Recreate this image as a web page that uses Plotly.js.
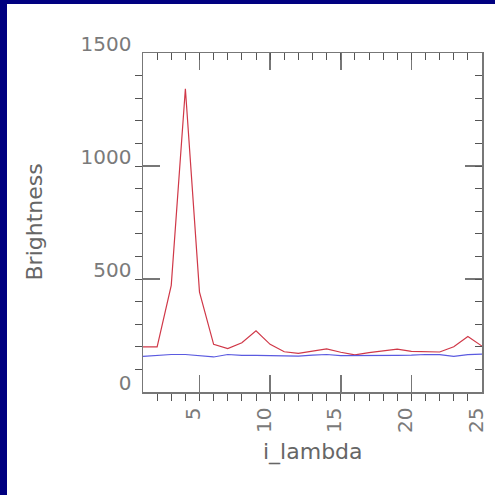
<!DOCTYPE html>
<html>
<head>
<meta charset="utf-8">
<script src="https://cdn.plot.ly/plotly-3.0.1.min.js"></script>
<style>
html, body { margin: 0; padding: 0; background: #000080; width: 495px; height: 495px; overflow: hidden; }
#plot { position: absolute; left: 7px; top: 4px; width: 488px; height: 491px; background: #ffffff; }
</style>
</head>
<body>
<div id="plot"></div>
<script>
const iLambda = [1,2,3,4,5,6,7,8,9,10,11,12,13,14,15,16,17,18,19,20,21,22,23,24,25];
const redBrightness = [200,200,472,1342,442,211,192,218,271,211,178,171,181,191,176,164,174,181,190,180,180,177,200,246,203];
const blueBrightness = [158,162,166,166,162,155,166,162,162,162,162,159,163,166,161,161,159,159,162,163,166,165,158,165,168];
const xTitle = 'i_lambda';
const yTitle = 'Brightness';
const xRange = [1, 25];
const yRange = [0, 1500];

const fontFam = '"DejaVu Sans", sans-serif';
const axisCommon = {
  showgrid: false, zeroline: false, showline: true, linecolor: '#777777', linewidth: 1.5,
  mirror: false, ticks: 'inside', ticklen: 17, tickwidth: 1.5, tickcolor: '#777777',
  tickfont: {family: fontFam, size: 20, color: '#7a7a7a'},
  fixedrange: true
};
const minorX = {dtick: 1, tick0: 0, ticklen: 7, tickwidth: 1, tickcolor: '#555555', showgrid: false};
const minorY = {dtick: 100, tick0: 0, ticklen: 7, tickwidth: 1, tickcolor: '#555555', showgrid: false};
const minorAxis = {ticklen: 7, tickwidth: 1, tickcolor: '#555555', showticklabels: false, tickmode: 'linear', tick0: 0};

const data = [
  {x: iLambda, y: redBrightness, type: 'scatter', mode: 'lines', line: {color: '#d03848', width: 1.2}, hoverinfo: 'skip'},
  {x: iLambda, y: blueBrightness, type: 'scatter', mode: 'lines', line: {color: '#5a5ae0', width: 1.2}, hoverinfo: 'skip'},
  {x: [], y: [], xaxis: 'x2', yaxis: 'y2', type: 'scatter', mode: 'lines', hoverinfo: 'skip'},
  {x: [], y: [], xaxis: 'x3', yaxis: 'y3', type: 'scatter', mode: 'lines', hoverinfo: 'skip'}
];

const layout = {
  width: 488, height: 491,
  margin: {l: 136, r: 13, t: 49, b: 103},
  paper_bgcolor: '#ffffff', plot_bgcolor: '#ffffff',
  showlegend: false,
  xaxis: Object.assign({}, axisCommon, {
    range: xRange, tickmode: 'linear', tick0: 0, dtick: 5, tickangle: -90,
    ticklabelstandoff: 6, ticklabelshift: -6, minor: minorX
  }),
  yaxis: Object.assign({}, axisCommon, {
    range: yRange, tickmode: 'linear', tick0: 0, dtick: 500,
    ticklabelstandoff: 6, ticklabelshift: -9, minor: minorY
  }),
  xaxis2: Object.assign({}, axisCommon, {
    range: xRange, tickmode: 'linear', tick0: 0, dtick: 5, overlaying: 'x', side: 'top',
    anchor: 'y2', showticklabels: false
  }),
  yaxis2: Object.assign({}, axisCommon, {
    range: yRange, tickmode: 'linear', tick0: 0, dtick: 500, overlaying: 'y', side: 'right',
    anchor: 'x2', showticklabels: false
  }),
  xaxis3: Object.assign({}, axisCommon, minorAxis, {
    range: xRange, dtick: 1, overlaying: 'x', side: 'top', anchor: 'y3'
  }),
  yaxis3: Object.assign({}, axisCommon, minorAxis, {
    range: yRange, dtick: 100, overlaying: 'y', side: 'right', anchor: 'x3'
  }),
  annotations: [
    {text: xTitle, xref: 'paper', yref: 'paper', x: 0.5, y: -0.177, xanchor: 'center', yanchor: 'middle',
     showarrow: false, font: {family: fontFam, size: 22, color: '#666666'}},
    {text: yTitle, xref: 'paper', yref: 'paper', x: -0.3215, y: 0.5, xanchor: 'center', yanchor: 'middle',
     textangle: -90, showarrow: false, font: {family: fontFam, size: 22, color: '#666666'}}
  ]
};

Plotly.newPlot('plot', data, layout, {displayModeBar: false, staticPlot: true});
</script>
</body>
</html>
